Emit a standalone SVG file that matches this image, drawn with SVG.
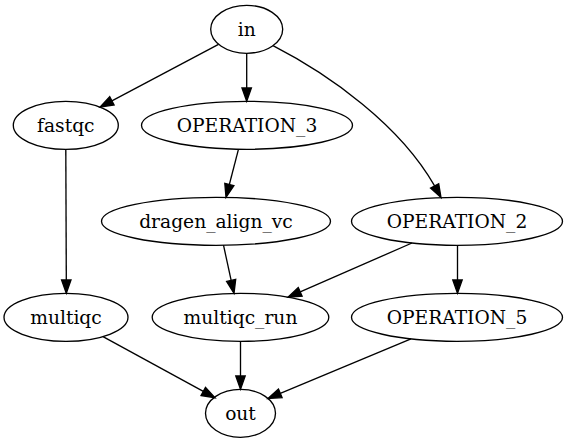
<svg xmlns="http://www.w3.org/2000/svg" width="569" height="443" viewBox="0 0 569 443">
<style>
.n ellipse{fill:none;stroke:#000;stroke-width:1.33}
.n text{font-family:"DejaVu Serif","Liberation Serif",serif;font-size:18.67px;text-anchor:middle;fill:#000}
#edges path,#edges line{fill:none;stroke:#000;stroke-width:1.33}
#edges polygon{fill:#000;stroke:#000;stroke-width:1.33}
</style>
<rect width="569" height="443" fill="#fff"/>
<g id="edges">
<line x1="218.5" y1="44.3" x2="111.9" y2="100.85"/>
<polygon points="109.7,96.7 100.1,107.1 114.1,105.0"/>
<line x1="246.7" y1="53.3" x2="246.7" y2="88"/>
<polygon points="242,88 246.7,101.3 251.4,88"/>
<path d="M273,45.7 C330,75 400,125 434.6,185.9"/>
<polygon points="430.5,188.1 441,197.6 438.7,183.7"/>
<line x1="65.8" y1="149.3" x2="66.3" y2="280"/>
<polygon points="61.6,280 66.3,293.3 71,280"/>
<line x1="238.5" y1="149.2" x2="229.35" y2="184.5"/>
<polygon points="224.8,183.3 226,197.4 233.9,185.7"/>
<line x1="223.5" y1="245.2" x2="231.16" y2="280.4"/>
<polygon points="226.6,281.4 234,293.4 235.7,279.4"/>
<line x1="412" y1="243" x2="300.2" y2="291.9"/>
<polygon points="298.3,287.6 288,297.2 302.1,296.2"/>
<line x1="457.5" y1="245.3" x2="457.5" y2="280"/>
<polygon points="452.8,280 457.5,293.3 462.2,280"/>
<line x1="103" y1="336.6" x2="203.3" y2="391.4"/>
<polygon points="201.06,395.5 215,397.8 205.5,387.3"/>
<line x1="240.5" y1="341.3" x2="240.5" y2="376"/>
<polygon points="235.8,376 240.5,389.3 245.2,376"/>
<line x1="411" y1="338.9" x2="280.3" y2="393.3"/>
<polygon points="278.5,389.0 268,398.4 282.1,397.6"/>
</g>
<g id="in" class="n"><ellipse cx="246.7" cy="29.3" rx="36" ry="24"/><text x="246.7" y="35.8">in</text></g>
<g id="fastqc" class="n"><ellipse cx="65.8" cy="125.3" rx="52.5" ry="24"/><text x="65.8" y="131.8">fastqc</text></g>
<g id="OPERATION_3" class="n"><ellipse cx="247" cy="125.3" rx="105.5" ry="24"/><text x="247" y="131.8">OPERATION_3</text></g>
<g id="dragen_align_vc" class="n"><ellipse cx="216" cy="221.3" rx="114.5" ry="24"/><text x="216" y="227.8">dragen_align_vc</text></g>
<g id="OPERATION_2" class="n"><ellipse cx="457" cy="221.3" rx="105.5" ry="24"/><text x="457" y="227.8">OPERATION_2</text></g>
<g id="multiqc" class="n"><ellipse cx="66" cy="317.3" rx="62" ry="24"/><text x="66" y="323.8">multiqc</text></g>
<g id="multiqc_run" class="n"><ellipse cx="240.5" cy="317.3" rx="88.3" ry="24"/><text x="240.5" y="323.8">multiqc_run</text></g>
<g id="OPERATION_5" class="n"><ellipse cx="457" cy="317.3" rx="105.5" ry="24"/><text x="457" y="323.8">OPERATION_5</text></g>
<g id="out" class="n"><ellipse cx="240.5" cy="413.3" rx="35" ry="24"/><text x="240.5" y="419.8">out</text></g>
</svg>
